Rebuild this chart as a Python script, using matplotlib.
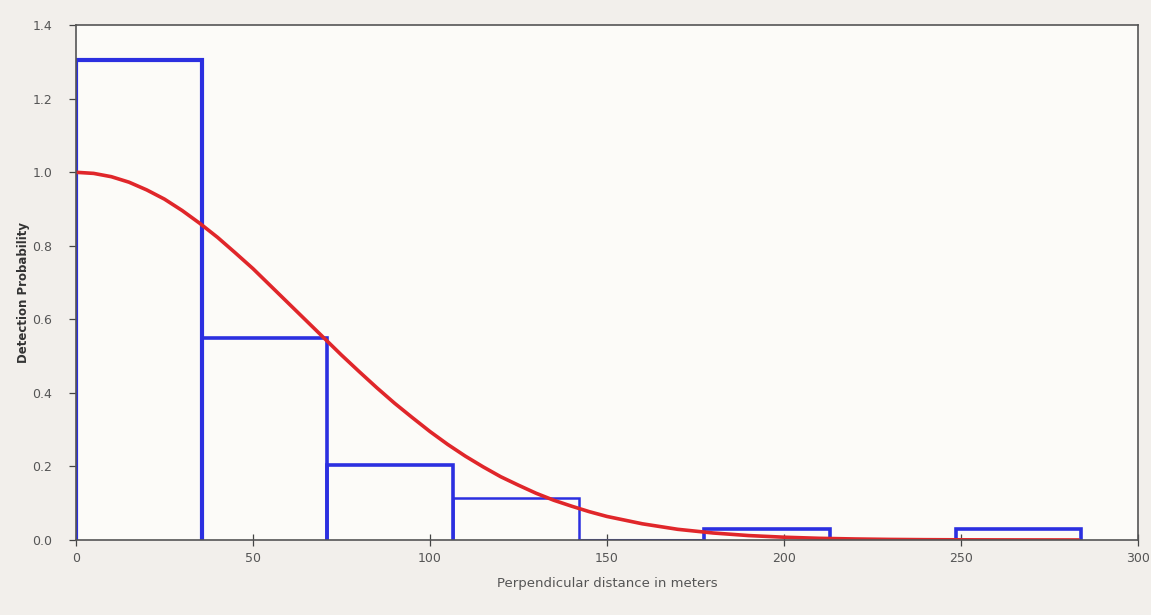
import matplotlib
matplotlib.use("Agg")
import matplotlib.pyplot as plt

# histogram of scaled detection frequencies
bin_edges = [0, 35.5, 71, 106.5, 142, 177.5, 213, 248.5, 284]
bin_heights = [1.305, 0.55, 0.204, 0.115, 0.0, 0.03, 0.0, 0.03]
bin_lw = [3.0, 2.6, 2.6, 1.8, 2.2, 2.6, 2.2, 2.6]

# fitted detection function
curve_x = [0, 5, 10, 15, 20, 25, 30, 35, 40, 45, 50, 55, 60, 65, 70, 75, 80,
           85, 90, 95, 100, 105, 110, 115, 120, 125, 130, 135, 140, 145, 150,
           160, 170, 180, 190, 200, 210, 220, 230, 240, 250, 260, 270, 283]
curve_y = [1.0, 0.997, 0.988, 0.973, 0.952, 0.927, 0.896, 0.861, 0.823,
           0.781, 0.738, 0.691, 0.644, 0.597, 0.55, 0.503, 0.458, 0.414,
           0.372, 0.333, 0.295, 0.26, 0.228, 0.199, 0.172, 0.149, 0.127,
           0.108, 0.092, 0.077, 0.064, 0.044, 0.029, 0.019, 0.012, 0.0075,
           0.0045, 0.0027, 0.0015, 0.0008, 0.0004, 0.0002, 0.0001, 0.0]

x_ticks = [0, 50, 100, 150, 200, 250, 300]
y_ticks = [0.0, 0.2, 0.4, 0.6, 0.8, 1.0, 1.2, 1.4]

blue = "#2b2fe0"
red = "#e0262a"
txt = "#555555"

fig = plt.figure(figsize=(11.51, 6.15), dpi=100, facecolor="#f2efeb")
ax = fig.add_axes([0.066, 0.122, 0.9226, 0.837], facecolor="#fcfbf8")

for i, h in enumerate(bin_heights):
    left, right = bin_edges[i], bin_edges[i + 1]
    ax.plot([left, left, right, right], [0, h, h, 0], color=blue,
            linewidth=bin_lw[i], solid_joinstyle="miter", zorder=2)

ax.plot(curve_x, curve_y, color=red, linewidth=2.6, zorder=3)

ax.set_xlim(0, 300)
ax.set_ylim(0, 1.4)
ax.set_xticks(x_ticks)
ax.set_yticks(y_ticks)
ax.set_yticklabels([f"{v:.1f}" for v in y_ticks])
ax.tick_params(axis="x", direction="inout", length=8, width=0.9, colors="#444444",
               labelcolor=txt, labelsize=9, pad=5)
ax.tick_params(axis="y", direction="out", length=5, width=0.9, colors="#444444",
               labelcolor=txt, labelsize=9, pad=12)

for spine in ax.spines.values():
    spine.set_color("#555555")
    spine.set_linewidth(1.2)
    spine.set_zorder(4)

ax.set_xlabel("Perpendicular distance in meters", fontsize=9.5, color=txt, labelpad=8)
ax.set_ylabel("Detection Probability", fontsize=8.5, color="#333333",
              fontweight="bold")
ax.yaxis.set_label_coords(-0.043, 0.48)

fig.savefig("out.png", dpi=100, facecolor=fig.get_facecolor())
